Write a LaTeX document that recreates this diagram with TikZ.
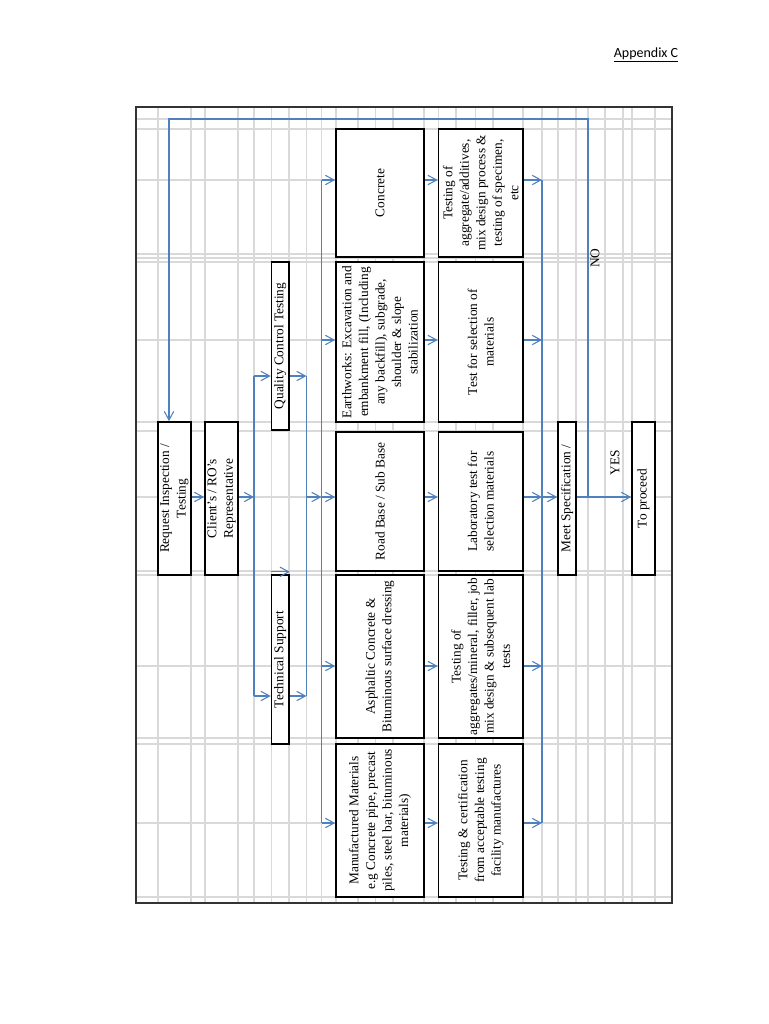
\documentclass[tikz,border=0pt]{standalone}
\usepackage{fontspec}
\setmainfont{Liberation Serif}
\newfontfamily\calib{Carlito}
\usetikzlibrary{arrows.meta}
\definecolor{gridgray}{RGB}{217,217,217}
\definecolor{ablue}{RGB}{79,129,189}
\tikzset{
  gridline/.style={draw=gridgray, line width=0.9pt},
  conn/.style={draw=ablue, line width=0.8pt},
  flow/.style={conn, -{Straight Barb[length=6.5pt, width=7pt, line width=0.8pt]}},
  box/.style={draw=black, line width=1.2pt, fill=white, inner sep=0pt},
  txt/.style={rotate=90, align=center, inner sep=0pt, font=\fontsize{10}{12.4}\selectfont},
  frame/.style={draw=black!80, line width=1pt}
}
\begin{document}
\begin{tikzpicture}[x=0.75pt, y=-0.75pt]
\useasboundingbox (0,0) rectangle (768,1024);
\node[inner sep=0pt, font=\calib\fontsize{10.5}{12}\selectfont] (app) at (646,55) {\underline{Appendix C}};
% grid
\foreach \gx in {158,191,205,238,254,271.5,289,306.5,321.5,336,358,375.5,393,424,438.5,456,475.5,493,523,542,558,576,588,605,623,632,655}
  \draw[gridline] (\gx,107) -- (\gx,903);
\foreach \gy in {119,129,180,254,258,262,340,422,431,497,571,575,666,738,744,823,897}
  \draw[gridline] (136,\gy) -- (672,\gy);
\draw[frame] (136,107) rectangle (672,903);
% boxes
\node[box, minimum width=24.75pt, minimum height=114.75pt] (req) at (174.5,498.5) {};
\node[box, minimum width=24.75pt, minimum height=114.75pt] (cli) at (221.5,498.5) {};
\node[box, minimum width=13.1pt, minimum height=126pt] (qc) at (280.25,346) {};
\node[box, minimum width=13.1pt, minimum height=126.75pt] (ts) at (280.25,659.5) {};
\node[box, minimum width=13.5pt, minimum height=114.75pt] (meet) at (567,498.5) {};
\node[box, minimum width=17.25pt, minimum height=114.75pt] (proc) at (643.5,498.5) {};
\node[box, minimum width=66pt, minimum height=96pt] (m1) at (380,193) {};
\node[box, minimum width=66pt, minimum height=120pt] (m2) at (380,342) {};
\node[box, minimum width=66pt, minimum height=104.25pt] (m3) at (380,501.5) {};
\node[box, minimum width=66pt, minimum height=122.25pt] (m4) at (380,656.5) {};
\node[box, minimum width=66pt, minimum height=114.75pt] (m5) at (380,820.5) {};
\node[box, minimum width=63.4pt, minimum height=96pt] (t1) at (480.75,193) {};
\node[box, minimum width=63.4pt, minimum height=120pt] (t2) at (480.75,342) {};
\node[box, minimum width=63.4pt, minimum height=104.25pt] (t3) at (480.75,501.5) {};
\node[box, minimum width=63.4pt, minimum height=122.25pt] (t4) at (480.75,656.5) {};
\node[box, minimum width=63.4pt, minimum height=114.75pt] (t5) at (480.75,820.5) {};
% texts
\node[txt] (reqt) at (req) {Request Inspection /\\Testing};
\node[txt] (clit) at (cli) {Client's / RO's\\Representative};
\node[txt] (qct) at (qc) {Quality Control Testing};
\node[txt] (tst) at (ts) {Technical Support};
\node[txt] (meett) at (meet) {Meet Specification /};
\node[txt] (proct) at (proc) {To proceed};
\node[txt] (m1t) at (m1) {Concrete};
\node[txt] (m2t) at (m2) {Earthworks: Excavation and\\embankment fill, (Including\\any backfill), subgrade,\\shoulder \& slope\\stabilization};
\node[txt] (m3t) at (m3) {Road Base / Sub Base};
\node[txt] (m4t) at (m4) {Asphaltic Concrete \&\\Bituminous surface dressing};
\node[txt] (m5t) at (m5) {Manufactured Materials\\e.g Concrete pipe, precast\\piles, steel bar, bituminous\\materials)};
\node[txt] (t1t) at (t1) {Testing of\\aggregate/additives,\\mix design process \&\\testing of specimen,\\etc};
\node[txt] (t2t) at (t2) {Test for selection of\\materials};
\node[txt] (t3t) at (t3) {Laboratory test for\\selection materials};
\node[txt] (t4t) at (t4) {Testing of\\aggregates/mineral, filler, job\\mix design \& subsequent lab\\tests};
\node[txt] (t5t) at (t5) {Testing \& certification\\from acceptable testing\\facility manufactures};
\node[txt] (yes) at (615,463) {YES};
\node[txt] (no) at (595,258) {NO};
% coordinates
\coordinate (r1) at (0,180);
\coordinate (r2) at (0,340);
\coordinate (r3) at (0,497);
\coordinate (r4) at (0,666);
\coordinate (r5) at (0,823);
\coordinate (jn) at (588,497);
\coordinate (nocorner) at (169,119);
\coordinate (a1) at (254,376);
\coordinate (a2) at (254,696);
\coordinate (b1) at (306.5,376);
\coordinate (b2) at (306.5,696);
\coordinate (c1) at (321.5,180);
\coordinate (c2) at (321.5,823);
\coordinate (d1) at (542,180);
\coordinate (d2) at (542,823);
% connectors
\draw[flow] (jn) |- (nocorner) -- (nocorner |- req.north);
\draw[flow] (req.east |- r3) -- (cli.west |- r3);
\draw[flow] (cli.east |- r3) -- (a1 |- r3);
\draw[conn] (a1) -- (a2);
\draw[flow] (a1) -- (a1 -| qc.west);
\draw[flow] (a2) -- (a2 -| ts.west);
\draw[flow] (a1 -| qc.east) -- (b1);
\draw[flow] (a2 -| ts.east) -- (b2);
\draw[conn] (b1) -- (b2);
\draw[flow] ([yshift=1.8pt]ts.north west) -- ([yshift=1.8pt]ts.north east);
\draw[flow] (b1 |- r3) -- (c1 |- r3);
\draw[conn] (c1) -- (c2);
\draw[conn] (d1) -- (d2);
\foreach \i in {1,...,5}{
  \draw[flow] (c1 |- r\i) -- (m\i.west |- r\i);
  \draw[flow] (m\i.east |- r\i) -- (t\i.west |- r\i);
  \draw[flow] (t\i.east |- r\i) -- (d1 |- r\i);
}
\draw[flow] (d1 |- r3) -- (meet.west |- r3);
\draw[flow] (meet.east |- r3) -- (proc.west |- r3);
\end{tikzpicture}
\end{document}
